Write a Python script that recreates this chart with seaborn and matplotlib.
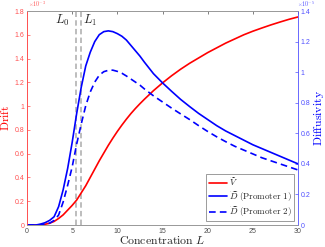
import matplotlib
matplotlib.use("Agg")
import matplotlib.pyplot as plt
from matplotlib.ticker import FuncFormatter
import seaborn as sns

# values (drift in units of 1e-3, diffusivity in 1e-5)
conc = [0, 1, 1.5, 2, 2.5, 3, 3.5, 4, 4.5, 5, 5.5, 6, 6.5, 7, 7.5, 8, 8.5, 9,
        9.5, 10, 10.5, 11, 11.5, 12, 12.5, 13, 14, 15, 16, 17, 18, 19, 20, 21,
        22, 23, 24, 25, 26, 27, 28, 29, 30]
drift = [0, 0, 0.002, 0.006, 0.015, 0.03, 0.055, 0.085, 0.125, 0.165, 0.21,
         0.27, 0.33, 0.40, 0.47, 0.54, 0.605, 0.67, 0.73, 0.787, 0.84, 0.89,
         0.937, 0.98, 1.02, 1.058, 1.13, 1.195, 1.255, 1.31, 1.36, 1.405,
         1.45, 1.49, 1.53, 1.565, 1.60, 1.63, 1.657, 1.683, 1.707, 1.73, 1.75]
diff_p1 = [0, 0, 0.006, 0.015, 0.03, 0.054, 0.12, 0.23, 0.37, 0.54, 0.73, 0.90,
           1.04, 1.13, 1.20, 1.245, 1.265, 1.27, 1.265, 1.252, 1.235, 1.21,
           1.175, 1.14, 1.105, 1.065, 0.99, 0.93, 0.875, 0.822, 0.775, 0.73,
           0.69, 0.65, 0.615, 0.585, 0.555, 0.525, 0.50, 0.475, 0.45, 0.425, 0.40]
diff_p2 = [0, 0, 0.001, 0.004, 0.012, 0.03, 0.065, 0.15, 0.26, 0.38, 0.53, 0.66,
           0.78, 0.87, 0.935, 0.98, 1.003, 1.012, 1.013, 1.005, 0.993, 0.975,
           0.955, 0.935, 0.915, 0.89, 0.845, 0.805, 0.765, 0.727, 0.69, 0.65,
           0.612, 0.577, 0.545, 0.515, 0.49, 0.465, 0.44, 0.42, 0.40, 0.38, 0.36]
L0, L1 = 5.4, 5.95

drift_vals = [v * 1e-3 for v in drift]
p1_vals = [v * 1e-5 for v in diff_p1]
p2_vals = [v * 1e-5 for v in diff_p2]

sns.set_style("white")
plt.rcParams["font.family"] = ["Liberation Sans", "DejaVu Sans"]
plt.rcParams["mathtext.fontset"] = "cm"

fig = plt.figure(figsize=(3.25, 2.47), dpi=100)
ax = fig.add_axes([27 / 325, 22 / 247, 271 / 325, 214 / 247])
ax2 = ax.twinx()

red = "#ff0000"
blue = "#0000ff"
lred = "#ff5050"
lblue = "#5050ff"

# dashed markers for L0 / L1
for xv in (L0, L1):
    ax.axvline(xv, color="0.72", ls=(0, (3, 1.8)), lw=1.3, zorder=1)

sns.lineplot(x=conc, y=drift_vals, ax=ax, color=red, lw=1.2)
sns.lineplot(x=conc, y=p1_vals, ax=ax2, color=blue, lw=1.2)
sns.lineplot(x=conc, y=p2_vals, ax=ax2, color=blue, lw=1.2, linestyle=(0, (4, 2.5)))

ax.set_xlim(0, 30)
ax.set_ylim(0, 1.8e-3)
ax2.set_ylim(0, 1.4e-5)
ax.set_xticks([0, 5, 10, 15, 20, 25, 30])
ax.set_yticks([i * 0.2e-3 for i in range(10)])
ax2.set_yticks([i * 0.2e-5 for i in range(8)])
ax.yaxis.set_major_formatter(FuncFormatter(lambda v, p: f"{v * 1e3:g}"))
ax2.yaxis.set_major_formatter(FuncFormatter(lambda v, p: f"{v * 1e5:g}"))

ax.tick_params(axis="x", direction="in", length=2.5, width=0.5, labelsize=5,
               colors="0.3", top=True, pad=2)
ax.tick_params(axis="y", direction="in", length=2.5, width=0.5, labelsize=5,
               colors=lred, left=True, right=False, pad=2)
ax2.tick_params(axis="y", direction="in", length=2.5, width=0.5, labelsize=5,
                colors=lblue, right=True, pad=2)

for a in (ax, ax2):
    for s in a.spines.values():
        s.set_linewidth(0.6)
        s.set_color("0.6")
        s.set_visible(True)
ax2.spines["left"].set_color(lred)
ax2.spines["right"].set_color(lblue)
ax.spines["left"].set_color(lred)
ax.spines["right"].set_visible(False)

ax.text(0.002, 1.034, r"$\times10^{-3}$", transform=ax.transAxes, fontsize=4.3,
        color=lred, ha="left", va="center")
ax2.text(0.998, 1.034, r"$\times10^{-5}$", transform=ax2.transAxes, fontsize=4.3,
         color=lblue, ha="left", va="center")

ax.set_xlabel(r"$\mathrm{Concentration}\ L$", fontsize=8.5, labelpad=0)
ax.set_ylabel(r"$\mathrm{Drift}$", fontsize=8.5, color=red, labelpad=2)
ax2.set_ylabel(r"$\mathrm{Diffusivity}$", fontsize=8.5, color=blue, labelpad=1)

ax.text(3.95, 1.72e-3, r"$L_0$", fontsize=9, ha="center", va="center")
ax.text(6.95, 1.72e-3, r"$L_1$", fontsize=9, ha="center", va="center")

for a in (ax, ax2):
    if a.get_legend() is not None:
        a.get_legend().remove()
h1 = ax.get_lines()[-1]
h2, h3 = ax2.get_lines()[0], ax2.get_lines()[1]
leg = ax2.legend([h1, h2, h3],
                 [r"$\widetilde{V}$",
                  r"$\widetilde{D}\ \mathrm{(Promoter\ 1)}$",
                  r"$\widetilde{D}\ \mathrm{(Promoter\ 2)}$"],
                 loc="lower right", fontsize=6.5, frameon=True, fancybox=False,
                 edgecolor="0.55", framealpha=1, handlelength=2.0,
                 handletextpad=0.3, borderpad=0.25, labelspacing=0.15,
                 borderaxespad=0.4)
leg.get_frame().set_linewidth(0.6)

fig.savefig("out.png", dpi=100)
